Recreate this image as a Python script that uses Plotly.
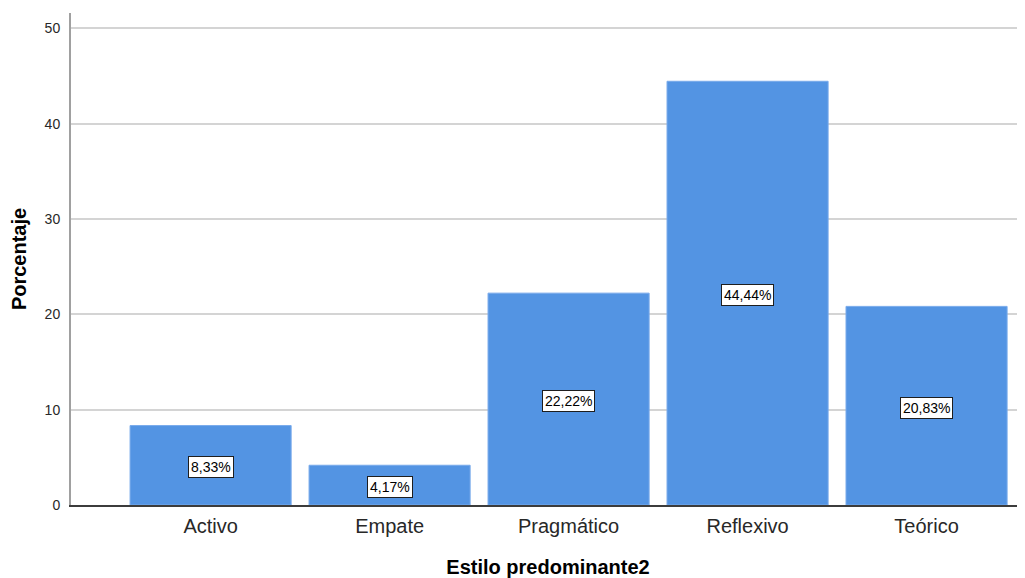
import plotly.graph_objects as go

categories = ["Activo", "Empate", "Pragmático", "Reflexivo", "Teórico"]
percentages = [8.33, 4.17, 22.22, 44.44, 20.83]
y_ticks = [0, 10, 20, 30, 40, 50]

bar_color = "rgb(83,148,227)"
font_family = "Liberation Sans, Arial, sans-serif"

fig = go.Figure()
fig.add_trace(go.Bar(
    x=categories, y=percentages,
    marker=dict(color=bar_color, line=dict(color="rgb(120,170,235)", width=1)),
    hoverinfo="skip",
))

for c, v in zip(categories, percentages):
    fig.add_annotation(
        x=c, y=v / 2, yshift=-2, text=f"{v:.2f}%".replace(".", ","),
        showarrow=False, bgcolor="white", bordercolor="rgb(30,30,30)", borderwidth=1,
        borderpad=2, font=dict(family=font_family, size=14, color="black"),
    )

# The page body has an 8px default margin, so the figure is sized to fit inside it.
fig.update_layout(
    width=1017, height=570,
    margin=dict(l=63, r=0, t=5, b=73),
    plot_bgcolor="white", paper_bgcolor="white",
    showlegend=False, bargap=0.1,
    font=dict(family=font_family),
    xaxis=dict(
        type="category", range=[-0.78, 4.55],
        showline=True, linecolor="rgb(60,60,60)", linewidth=1.5,
        showgrid=False, ticks="", ticklabelstandoff=2,
        tickfont=dict(size=20, color="rgb(40,40,40)"),
        title=dict(text="<b>Estilo predominante2</b>", font=dict(size=20, color="black"), standoff=24),
    ),
    yaxis=dict(
        range=[0, 51.6], tickvals=y_ticks,
        showline=True, linecolor="rgb(160,160,160)", linewidth=2,
        showgrid=True, gridcolor="rgb(212,212,212)", gridwidth=1.5,
        zeroline=False, ticks="", ticklabelstandoff=6,
        tickfont=dict(size=14, color="rgb(40,40,40)"),
        title=dict(text="<b>Porcentaje</b>", font=dict(size=20, color="black"), standoff=20),
    ),
)

fig.write_html("out.html")
